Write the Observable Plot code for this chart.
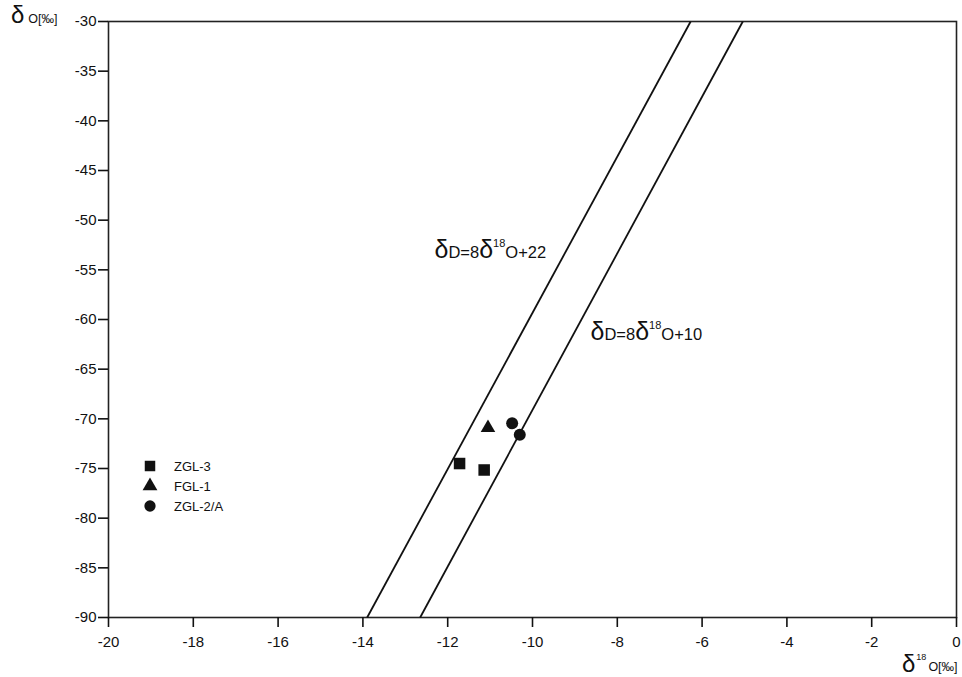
<!DOCTYPE html>
<html><head><meta charset="utf-8">
<script src="https://cdn.jsdelivr.net/npm/d3@7"></script>
<script src="https://cdn.jsdelivr.net/npm/@observablehq/plot@0.6"></script>
<style>
body{margin:0;background:#fff;}
#wrap{position:relative;width:962px;height:677px;}
</style></head><body><div id="wrap"></div>
<script>
// Sample data (δ18O, δD)
const samples = ["ZGL-3", "ZGL-3", "FGL-1", "ZGL-2/A", "ZGL-2/A"];
const d18O = [-11.72, -11.14, -11.05, -10.48, -10.30];
const dD = [-74.5, -75.15, -70.9, -70.45, -71.6];

// Reference lines as drawn (endpoints)
const lineNames = ["+22", "+10"];
const lineX = [[-13.9, -6.27], [-12.65, -5.04]];
const lineY = [[-90, -30], [-90, -30]];

// Line labels (constant term, anchor in data units)
const labelText = ["+22", "+10"];
const labelX = [-12.3, -8.62];
const labelY = [-53.3, -61.6];

// Ticks
const xTicks = d3.range(-20, 1, 2);
const yTicks = d3.range(-90, -29, 5);

// Legend
const legendNames = ["ZGL-3", "FGL-1", "ZGL-2/A"];
const legendSymbols = ["square", "triangle", "circle"];

const FONT = '"Liberation Sans Narrow", "Arial Narrow", "Liberation Sans", Arial, sans-serif';

const pts = samples.map((s, i) => ({s, x: d18O[i], y: dD[i]}));
const segs = lineNames.map((n, i) => ({n, x1: lineX[i][0], x2: lineX[i][1], y1: lineY[i][0], y2: lineY[i][1]}));
const symOf = Object.fromEntries(legendNames.map((n, i) => [n, legendSymbols[i]]));

const chart = Plot.plot({
  width: 962, height: 677,
  marginLeft: 108, marginRight: 6, marginTop: 21, marginBottom: 60,
  style: {fontFamily: FONT, fontSize: "15px", color: "#111", background: "#fff"},
  x: {domain: [-20, 0]},
  y: {domain: [-90, -30]},
  marks: [
    Plot.frame({stroke: "#222", strokeWidth: 1.6}),
    Plot.axisX({ticks: xTicks, tickSize: 10, tickPadding: 9, tickFormat: d => String(d), label: null, strokeWidth: 1.6, fontSize: 15}),
    Plot.axisY({ticks: yTicks, tickSize: 10, tickPadding: 2, tickFormat: d => String(d), label: null, strokeWidth: 1.6, fontSize: 15}),
    Plot.link(segs, {x1: "x1", y1: "y1", x2: "x2", y2: "y2", stroke: "#111", strokeWidth: 1.8}),
    Plot.dot(pts.filter(d => symOf[d.s] === "square"), {x: "x", y: "y", symbol: "square", r: 6.5, fill: "#111", stroke: "none"}),
    Plot.dot(pts.filter(d => symOf[d.s] === "triangle"), {x: "x", y: "y", symbol: "triangle", r: 5.4, fill: "#111", stroke: "none"}),
    Plot.dot(pts.filter(d => symOf[d.s] === "circle"), {x: "x", y: "y", symbol: "circle", r: 6, fill: "#111", stroke: "none"})
  ]
});

document.getElementById("wrap").appendChild(chart);
const svg = d3.select(chart);
const sx = chart.scale("x"), sy = chart.scale("y");

// Line labels: δD=8δ18O+c, placed through the plot's scales
labelText.forEach((c, i) => {
  const t = svg.append("text")
    .attr("x", sx.apply(labelX[i])).attr("y", sy.apply(labelY[i]))
    .attr("text-anchor", "start").attr("dy", "0.35em")
    .attr("font-family", FONT).attr("fill", "#111");
  t.append("tspan").attr("font-size", 25).text("δ");
  t.append("tspan").attr("font-size", 16.5).text("D=8");
  t.append("tspan").attr("font-size", 25).text("δ");
  t.append("tspan").attr("font-size", 11).attr("dy", -11).text("18");
  t.append("tspan").attr("font-size", 16.5).attr("dy", 11).text("O" + c);
});

// Axis titles
const yl = svg.append("text").attr("x", 11).attr("y", 23).attr("text-anchor", "start").attr("font-family", FONT).attr("fill", "#111");
yl.append("tspan").attr("font-size", 24).text("δ");
yl.append("tspan").attr("font-size", 12.5).attr("dx", 4).text("O[‰]");

const xl = svg.append("text").attr("x", 902).attr("y", 672).attr("text-anchor", "start").attr("font-family", FONT).attr("fill", "#111");
xl.append("tspan").attr("font-size", 24).text("δ");
xl.append("tspan").attr("font-size", 9).attr("dy", -12).attr("dx", 1).text("18");
xl.append("tspan").attr("font-size", 12.5).attr("dy", 11).attr("dx", 2).text("O[‰]");

// Legend
const lg = svg.append("g").attr("font-family", FONT).attr("font-size", 13).attr("fill", "#111").attr("text-anchor", "start");
const symMap = {square: d3.symbolSquare, triangle: d3.symbolTriangle, circle: d3.symbolCircle};
const symSize = {square: 110, triangle: 95, circle: 100};
legendNames.forEach((n, i) => {
  const cy = 466 + i * 20;
  const s = legendSymbols[i];
  lg.append("path").attr("d", d3.symbol(symMap[s], symSize[s])()).attr("transform", `translate(150,${cy})`).attr("fill", "#111");
  lg.append("text").attr("x", 174).attr("y", cy).attr("dy", "0.35em").text(n);
});
</script>
</body></html>
